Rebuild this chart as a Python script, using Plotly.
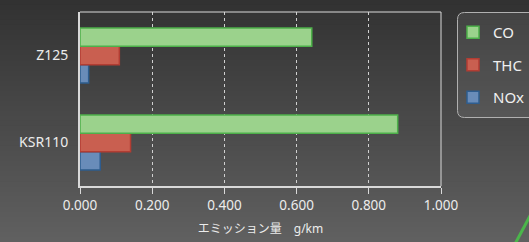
import plotly.graph_objects as go

categories = ["KSR110", "Z125"]
co_values = [0.880, 0.642]
thc_values = [0.140, 0.109]
nox_values = [0.056, 0.024]
tick_vals = [0, 0.2, 0.4, 0.6, 0.8, 1.0]

W, H = 529, 242
ML, MR, MT, MB = 80, 88, 12, 56
PW, PH = W - ML - MR, H - MT - MB

def px2x(px):
    return (px - ML) / PW

def px2y(py):
    return (H - MB - py) / PH

fig = go.Figure()
series = [
    ("NOx", nox_values, "#698cb9", "#2e5d8f", "g3", 3),
    ("THC", thc_values, "#c95f50", "#b23d33", "g2", 2),
    ("CO", co_values, "#9bd28c", "#4db04a", "g1", 1),
]
for name, vals, fill, line, grp, rank in series:
    fig.add_trace(go.Bar(
        y=categories, x=vals, name=name, orientation="h",
        marker=dict(color=fill, line=dict(color=line, width=1.5)),
        legendgroup=grp, legendrank=rank,
    ))

shapes = []
# background gradient bands
n = 48
c0, c1 = 50, 96
for i in range(n):
    v = int(round(c0 + (c1 - c0) * i / (n - 1)))
    shapes.append(dict(type="rect", xref="paper", yref="paper",
                       x0=px2x(0) - 0.01, x1=px2x(W) + 0.01,
                       y0=px2y(H * (i + 1) / n) - 0.002, y1=px2y(H * i / n) + 0.002,
                       fillcolor=f"rgb({v},{v},{v})", line=dict(width=0), layer="below"))
# top & right frame lines
shapes.append(dict(type="line", xref="paper", yref="paper", x0=0, x1=1, y0=1, y1=1,
                   line=dict(color="#d9d9d9", width=1)))
shapes.append(dict(type="line", xref="paper", yref="paper", x0=1, x1=1, y0=0, y1=1,
                   line=dict(color="#d9d9d9", width=1)))
# rounded legend box
lx0, lx1, ly0, ly1, r = 457.5, 540, 12.5, 117.5, 7
path = (f"M {px2x(lx0 + r)},{px2y(ly0)} L {px2x(lx1)},{px2y(ly0)} "
        f"L {px2x(lx1)},{px2y(ly1)} L {px2x(lx0 + r)},{px2y(ly1)} "
        f"Q {px2x(lx0)},{px2y(ly1)} {px2x(lx0)},{px2y(ly1 - r)} "
        f"L {px2x(lx0)},{px2y(ly0 + r)} Q {px2x(lx0)},{px2y(ly0)} {px2x(lx0 + r)},{px2y(ly0)}")
shapes.append(dict(type="path", xref="paper", yref="paper", path=path,
                   fillcolor="rgba(255,255,255,0.08)", line=dict(color="#b0b0b0", width=1)))
# decorative green stroke
shapes.append(dict(type="line", xref="paper", yref="paper",
                   x0=px2x(515), y0=px2y(244), x1=px2x(531), y1=px2y(214),
                   line=dict(color="#4bb54b", width=3)))

font_fam = "Noto Sans, Noto Sans CJK JP, sans-serif"
fig.update_layout(
    width=W, height=H,
    margin=dict(l=ML, r=MR, t=MT, b=MB, pad=0, autoexpand=False),
    paper_bgcolor="#444444",
    plot_bgcolor="rgba(255,255,255,0.09)",
    barmode="group", bargap=0.37, bargroupgap=0,
    font=dict(family=font_fam, color="#ececec", size=12),
    shapes=shapes,
    legend=dict(xref="container", yref="container",
                x=453 / W, y=1 - 16 / H, xanchor="left", yanchor="top",
                traceorder="grouped", tracegroupgap=10,
                bgcolor="rgba(0,0,0,0)", borderwidth=0,
                font=dict(size=15, color="#f0f0f0"), itemwidth=30),
    xaxis=dict(range=[0, 1.0], tickvals=tick_vals, tickformat=".3f",
               showgrid=True, gridcolor="#d0d0d0", griddash="dot", gridwidth=1,
               showline=True, linecolor="#d9d9d9", linewidth=2,
               ticks="outside", ticklen=6, tickcolor="#d9d9d9", tickwidth=1,
               zeroline=False, tickfont=dict(size=13.5), automargin=False,
               title=dict(text="エミッション量　g/km", font=dict(size=12), standoff=11)),
    yaxis=dict(showgrid=False, showline=True, linecolor="#d9d9d9", linewidth=2,
               ticks="", ticklabelstandoff=7, tickfont=dict(size=14), zeroline=False,
               automargin=False),
)
fig.write_html("out.html", config={"displayModeBar": False},
               post_script="document.body.style.margin='0';document.body.style.overflow='hidden';")
